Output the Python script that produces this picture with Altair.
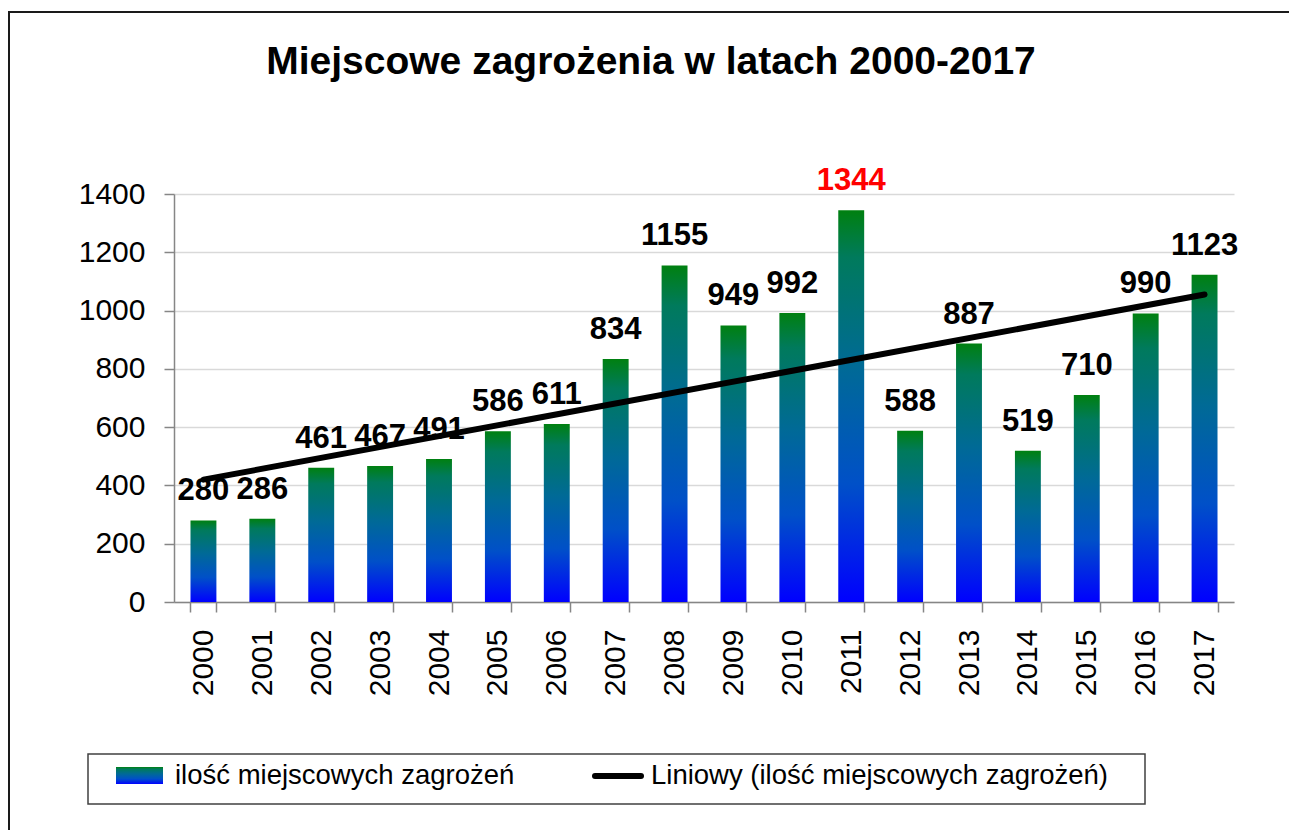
import altair as alt
import pandas as pd

# ---- data -------------------------------------------------------------
YEARS = ["2000", "2001", "2002", "2003", "2004", "2005", "2006", "2007", "2008",
         "2009", "2010", "2011", "2012", "2013", "2014", "2015", "2016", "2017"]
VALUES = [280, 286, 461, 467, 491, 586, 611, 834, 1155,
          949, 992, 1344, 588, 887, 519, 710, 990, 1123]
Y_TICKS = [0, 200, 400, 600, 800, 1000, 1200, 1400]
TITLE = "Miejscowe zagrożenia w latach 2000-2017"
SERIES_LABEL = "ilość miejscowych zagrożeń"
TREND_LABEL = "Liniowy (ilość miejscowych zagrożeń)"

FONT = "Liberation Sans, Arial, sans-serif"
AXIS_GREY = "#868686"

df = pd.DataFrame({"year": YEARS, "value": VALUES})
one = pd.DataFrame({"k": [0]})

grad = alt.Gradient(
    gradient="linear",
    stops=[
        alt.GradientStop(color="#0000FF", offset=0),
        alt.GradientStop(color="#0050C8", offset=0.3),
        alt.GradientStop(color="#006A96", offset=0.6),
        alt.GradientStop(color="#007A5C", offset=0.88),
        alt.GradientStop(color="#008010", offset=1),
    ],
    x1=1, x2=1, y1=1, y2=0,
)

x_enc = alt.X(
    "year:O",
    sort=YEARS,
    scale=alt.Scale(paddingInner=0.56, paddingOuter=0.28),
    axis=alt.Axis(
        title=None, labelAngle=270, labelFont=FONT, labelFontSize=30,
        labelColor="black", labelPadding=17, tickSize=10, tickColor=AXIS_GREY,
        tickWidth=1.5, domainColor=AXIS_GREY, domainWidth=1.5,
        tickBand="extent", grid=False,
    ),
)
y_enc = alt.Y(
    "value:Q",
    scale=alt.Scale(domain=[0, 1400], nice=False),
    axis=alt.Axis(
        title=None, values=Y_TICKS, format="d", labelFont=FONT, labelFontSize=30,
        labelColor="black", labelPadding=19, tickSize=10, tickColor=AXIS_GREY,
        tickWidth=1.5, domainColor=AXIS_GREY, domainWidth=1.5,
        grid=True, gridColor="#d9d9d9", gridWidth=1.5,
    ),
)

base = alt.Chart(df)

bars = base.mark_bar(color=grad).encode(x=x_enc, y=y_enc)

trend = (
    base.transform_calculate(yr="toNumber(datum.year)")
    .transform_regression("yr", "value")
    .transform_calculate(year="toString(datum.yr)")
    .mark_line(color="black", strokeWidth=6, strokeCap="round")
    .encode(x=alt.X("year:O", sort=YEARS), y="value:Q")
)

labels = (
    base.transform_joinaggregate(vmax="max(value)")
    .mark_text(font=FONT, fontSize=31, fontWeight="bold",
               baseline="alphabetic", dy=-20)
    .encode(
        x=alt.X("year:O", sort=YEARS),
        y="value:Q",
        text=alt.Text("value:Q", format="d"),
        color=alt.condition("datum.value == datum.vmax",
                            alt.value("#FF0000"), alt.value("#000000")),
    )
)

# ---- decorations: outer frame, title, legend -------------------------
frame = alt.Chart(one).mark_rect(fill="transparent", stroke="#1a1a1a",
                                 strokeWidth=2).encode(
    x=alt.value(-165), x2=alt.value(1300), y=alt.value(-182), y2=alt.value(700))

title = alt.Chart(pd.DataFrame({"t": [TITLE]})).mark_text(
    font=FONT, fontSize=39, fontWeight="bold", align="center",
    baseline="alphabetic", color="black").encode(
    x=alt.value(477), y=alt.value(-120), text="t:N")

legend_box = alt.Chart(one).mark_rect(fill="transparent", stroke="#404040",
                                      strokeWidth=1.5).encode(
    x=alt.value(-86), x2=alt.value(971), y=alt.value(560), y2=alt.value(610))

swatch = alt.Chart(one).mark_rect(color=grad).encode(
    x=alt.value(-58), x2=alt.value(-11), y=alt.value(573), y2=alt.value(590))

legend_t1 = alt.Chart(pd.DataFrame({"t": [SERIES_LABEL]})).mark_text(
    font=FONT, fontSize=27.5, align="left", baseline="middle",
    color="black").encode(x=alt.value(1), y=alt.value(582), text="t:N")

legend_line = alt.Chart(one).mark_rule(color="black", strokeWidth=6,
                                       strokeCap="round").encode(
    x=alt.value(421), x2=alt.value(467), y=alt.value(582))

legend_t2 = alt.Chart(pd.DataFrame({"t": [TREND_LABEL]})).mark_text(
    font=FONT, fontSize=27.5, align="left", baseline="middle",
    color="black").encode(x=alt.value(477), y=alt.value(582), text="t:N")

chart = (
    alt.layer(frame, bars, trend, labels, title,
              legend_box, swatch, legend_t1, legend_line, legend_t2)
    .properties(
        width=1060, height=408,
        autosize=alt.AutoSizeParams(type="none"),
        padding={"left": 166, "top": 186, "right": 55, "bottom": 228},
        background="white",
    )
    .configure(font=FONT)
    .configure_view(stroke="transparent")
)

chart.save("out.html", embed_options={"renderer": "svg", "actions": False})
